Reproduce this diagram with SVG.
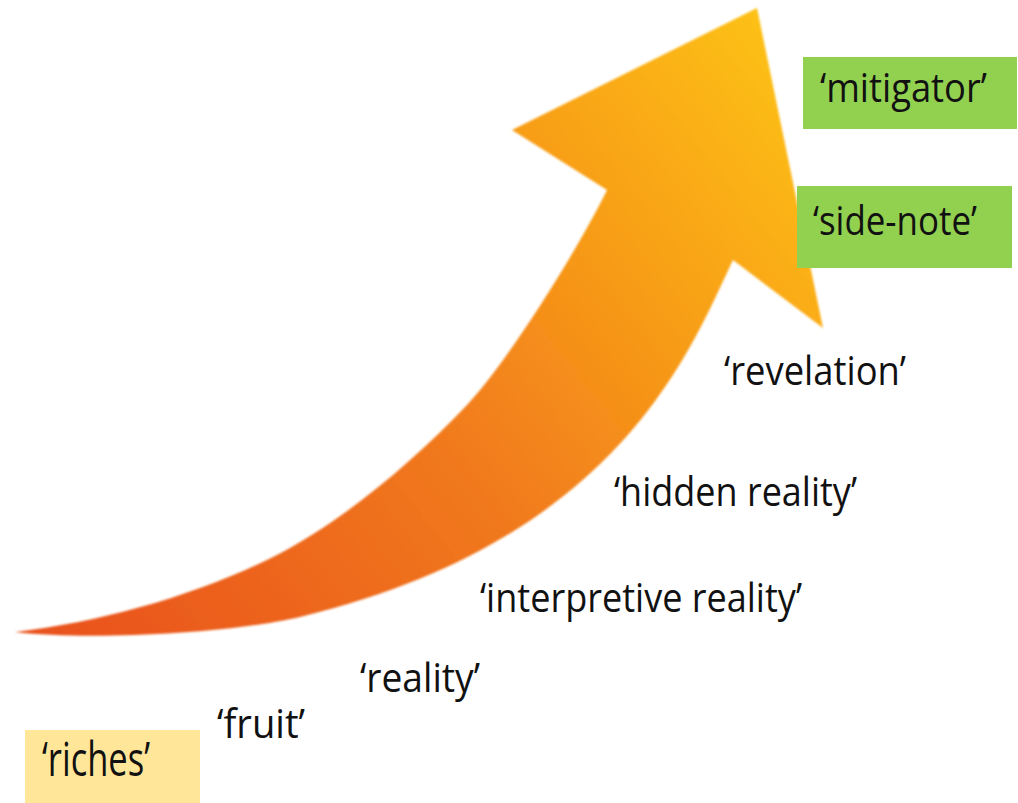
<svg xmlns="http://www.w3.org/2000/svg" width="1018" height="803" viewBox="0 0 1018 803">
  <style>
    .lbl { font-family: "Open Sans", "Liberation Sans", sans-serif; font-size: 40px; fill: #111111; }
    .big { font-size: 48px; }
    .green { fill: #92d050; }
    .yellow { fill: #ffe699; }
  </style>
  <defs>
    <linearGradient id="arrowFill" gradientUnits="userSpaceOnUse" x1="60" y1="640" x2="790" y2="60">
      <stop offset="0" stop-color="#e9531f"/>
      <stop offset="0.45" stop-color="#f1791d"/>
      <stop offset="0.75" stop-color="#f8a017"/>
      <stop offset="1" stop-color="#fdc013"/>
    </linearGradient>
    <filter id="soft" x="-5%" y="-5%" width="110%" height="110%">
      <feGaussianBlur stdDeviation="0.8"/>
    </filter>
  </defs>

  <rect width="1018" height="803" fill="#ffffff"/>

  <!-- rising curved arrow -->
  <g id="arrow">
    <path fill="url(#arrowFill)" filter="url(#soft)"
      d="M 15,632
         C 100,622 190,597 267,560
         C 337,526 410,465 467,405
         C 505,365 575,255 607,190
         L 512,130
         L 757,8
         L 823,328
         L 733,260
         C 690,350 620,540 300,617
         C 232,633 90,641 15,632 Z"/>
  </g>

  <g id="connectors"></g>

  <g id="mitigator">
    <rect class="green" x="803" y="57" width="214" height="72"/>
    <text class="lbl" x="820" y="102" textLength="167" lengthAdjust="spacingAndGlyphs">‘mitigator’</text>
  </g>

  <g id="side-note">
    <rect class="green" x="797" y="186" width="215" height="82"/>
    <text class="lbl" x="813" y="235" textLength="164" lengthAdjust="spacingAndGlyphs">‘side-note’</text>
  </g>

  <g id="revelation">
    <text class="lbl" x="724" y="385" textLength="182" lengthAdjust="spacingAndGlyphs">‘revelation’</text>
  </g>

  <g id="hidden-reality">
    <text class="lbl" x="614" y="506" textLength="243" lengthAdjust="spacingAndGlyphs">‘hidden reality’</text>
  </g>

  <g id="interpretive-reality">
    <text class="lbl" x="480" y="612" textLength="322" lengthAdjust="spacingAndGlyphs">‘interpretive reality’</text>
  </g>

  <g id="reality">
    <text class="lbl" x="360" y="692" textLength="120" lengthAdjust="spacingAndGlyphs">‘reality’</text>
  </g>

  <g id="fruit">
    <text class="lbl" x="217" y="738" textLength="88" lengthAdjust="spacingAndGlyphs">‘fruit’</text>
  </g>

  <g id="riches">
    <rect class="yellow" x="25" y="730" width="175" height="73"/>
    <text class="lbl big" x="42" y="776" textLength="108" lengthAdjust="spacingAndGlyphs">‘riches’</text>
  </g>
</svg>
